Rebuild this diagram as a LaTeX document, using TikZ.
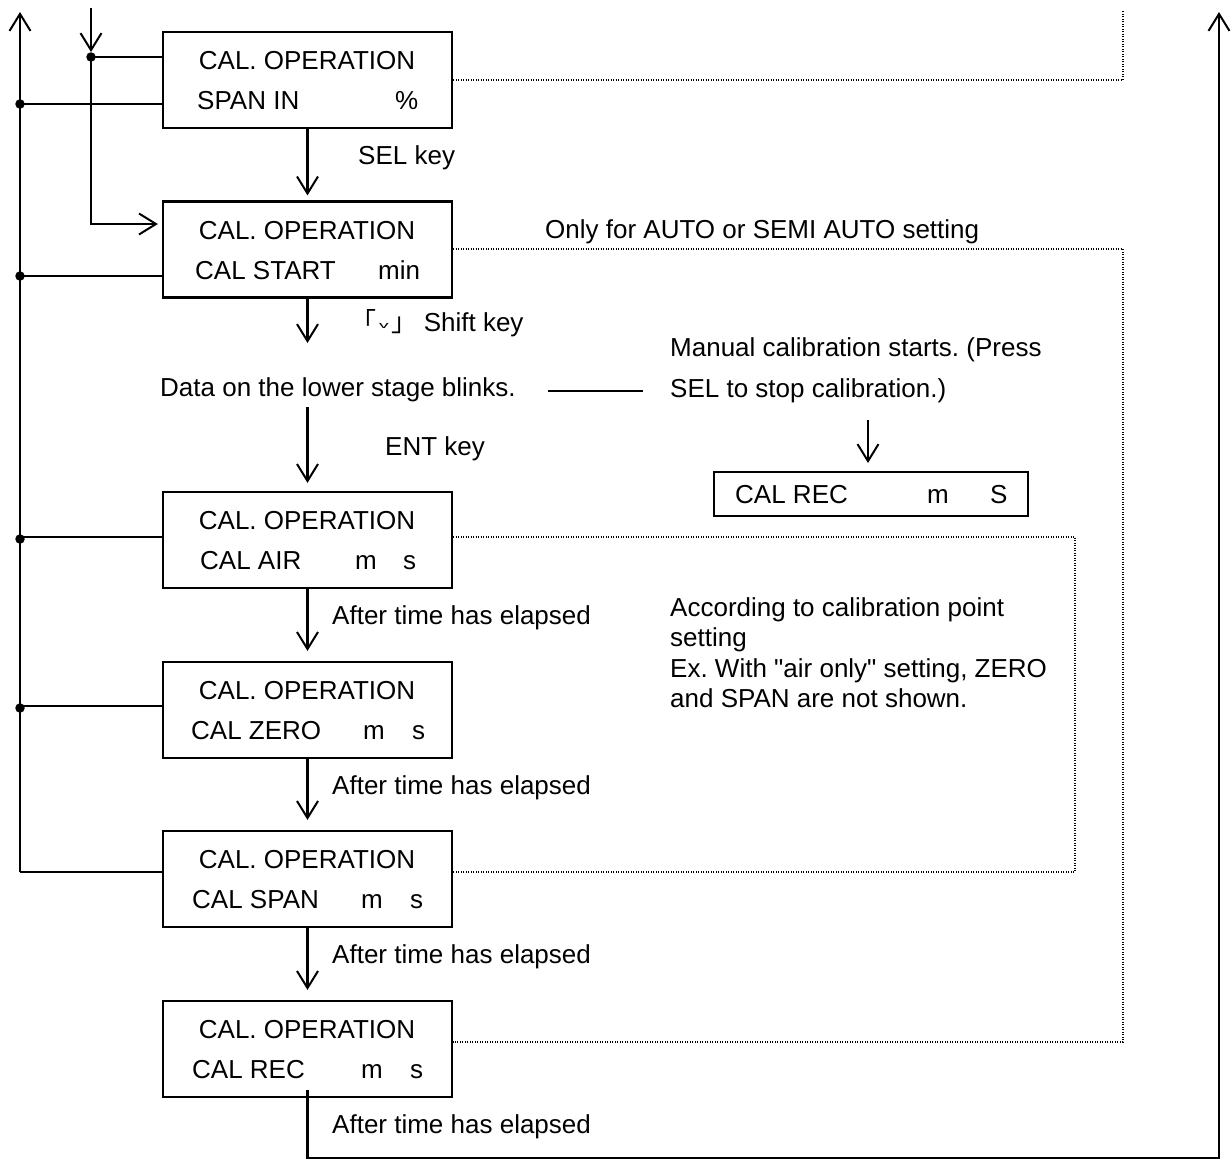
\documentclass[tikz,border=0pt]{standalone}
\usepackage{fontspec}
\setmainfont{Liberation Sans}[Ligatures=TeXOff]
\newfontfamily\cjk{Noto Sans CJK JP}
\usepackage{graphicx}
\usetikzlibrary{arrows.meta}
\frenchspacing
\begin{document}
\begin{tikzpicture}[x=1pt,y=-1pt,
  font=\fontsize{26}{30}\selectfont,
  ln/.style={line width=2.2pt},
  arr/.style={ln,-{Straight Barb[length=17pt,width=21pt,line width=2pt]}},
  box/.style={draw,line width=2.2pt,minimum width=289pt,minimum height=96pt,inner sep=0pt},
  sbox/.style={draw,line width=2.2pt,minimum width=314pt,minimum height=44pt,inner sep=0pt},
  lbl/.style={inner sep=0pt,anchor=base west},
  ttl/.style={inner sep=0pt,anchor=base},
  dotl/.style={line width=1.3pt,dash pattern=on 1.3pt off 1.2pt},
  jdot/.style={circle,fill,inner sep=0pt,minimum size=9.5pt}]
\useasboundingbox (0,0) rectangle (1231,1160);

% boxes
\node[box] (b1) at (307.5,80) {};
\node[box] (b2) at (307.5,249.5) {};
\node[box] (b3) at (307.5,540) {};
\node[box] (b4) at (307.5,710) {};
\node[box] (b5) at (307.5,879) {};
\node[box] (b6) at (307.5,1049) {};
\node[sbox] (cr) at (871,494) {};

% box texts
\node[ttl] (t1) at (307,69) {CAL. OPERATION};
\node[lbl] (t1a) at (197,109) {SPAN IN};
\node[lbl] (t1b) at (395,109) {\%};
\node[ttl] (t2) at (307,239) {CAL. OPERATION};
\node[lbl] (t2a) at (195,279) {CAL START};
\node[lbl] (t2b) at (378,279) {min};
\node[ttl] (t3) at (307,529) {CAL. OPERATION};
\node[lbl] (t3a) at (200,569) {CAL AIR};
\node[lbl] (t3b) at (355,569) {m};
\node[lbl] (t3c) at (403,569) {s};
\node[ttl] (t4) at (307,699) {CAL. OPERATION};
\node[lbl] (t4a) at (191,739) {CAL ZERO};
\node[lbl] (t4b) at (363,739) {m};
\node[lbl] (t4c) at (412,739) {s};
\node[ttl] (t5) at (307,868) {CAL. OPERATION};
\node[lbl] (t5a) at (192,908) {CAL SPAN};
\node[lbl] (t5b) at (361,908) {m};
\node[lbl] (t5c) at (410,908) {s};
\node[ttl] (t6) at (307,1038) {CAL. OPERATION};
\node[lbl] (t6a) at (192,1078) {CAL REC};
\node[lbl] (t6b) at (361,1078) {m};
\node[lbl] (t6c) at (410,1078) {s};
\node[lbl] (cra) at (735,503) {CAL REC};
\node[lbl] (crb) at (927,503) {m};
\node[lbl] (crc) at (990,503) {S};

% labels
\node[lbl] (sel) at (358,164) {SEL key};
\node[lbl] (shift) at (350,331) {{\cjk 「}\hspace{3pt}\raisebox{3pt}{\scalebox{1.2}[0.6]{\fontsize{16}{16}\selectfont v}}\hspace{3pt}{\cjk 」}\hspace{6pt}Shift key};
\node[lbl] (data) at (160,396) {Data on the lower stage blinks.};
\node[lbl] (man1) at (670,356) {Manual calibration starts. (Press};
\node[lbl] (man2) at (670,397) {SEL to stop calibration.)};
\node[lbl] (ent) at (385,455) {ENT key};
\node[lbl] (only) at (545,238) {Only for AUTO or SEMI AUTO setting};
\node[lbl] (acc1) at (670,616) {According to calibration point};
\node[lbl] (acc2) at (670,646) {setting};
\node[lbl] (acc3) at (670,677) {Ex. With "air only" setting, ZERO};
\node[lbl] (acc4) at (670,707) {and SPAN are not shown.};
\node[lbl] (el1) at (332,624) {After time has elapsed};
\node[lbl] (el2) at (332,794) {After time has elapsed};
\node[lbl] (el3) at (332,963) {After time has elapsed};
\node[lbl] (el4) at (332,1133) {After time has elapsed};

% coordinates
\coordinate (c2) at (307.5,343);
\coordinate (c3) at (307.5,407);
\coordinate (lt) at (20,12);
\coordinate (l5) at (20,872);
\coordinate (dtop) at (91,8);
\coordinate (j0) at (91,57);
\coordinate (j1) at (91,224);
\coordinate (rt) at (1219,12);
\coordinate (rb) at (1219,1158);
\coordinate (bb) at (307.5,1158);
\coordinate (m1) at (548,391);
\coordinate (m2) at (643,391);
\coordinate (ca) at (868,420);
\coordinate (cb) at (868,463);

% main flow arrows
\draw[arr] (b1.south) -- ([yshift=5pt]b2.north);
\draw[arr] (b2.south) -- (c2);
\draw[arr] (c3) -- ([yshift=8pt]b3.north);
\draw[arr] (b3.south) -- ([yshift=10pt]b4.north);
\draw[arr] (b4.south) -- ([yshift=10pt]b5.north);
\draw[arr] (b5.south) -- ([yshift=10pt]b6.north);
\draw[arr] (ca) -- (cb);
\draw[ln] (m1) -- (m2);

% return line at bottom/right
\draw[arr] ([yshift=8pt]b6.south) -- (bb) -- (rb) -- (rt);

% left return line
\draw[arr] (l5) -- (lt);
\draw[ln] (b5.west |- l5) -- (l5);
\draw[ln] (b1.west |- 0,104) -- (20,104);
\draw[ln] (b2.west |- 0,276) -- (20,276);
\draw[ln] (b3.west |- 0,537) -- (20,537);
\draw[ln] (b4.west |- 0,706) -- (20,706);
\node[jdot] (d1) at (20,104) {};
\node[jdot] (d2) at (20,276) {};
\node[jdot] (d3) at (20,539) {};
\node[jdot] (d4) at (20,708) {};

% entry line
\draw[arr] (dtop) -- ([yshift=5pt]j0);
\draw[ln] (j0) -- (b1.west |- j0);
\draw[arr] (j0) -- (j1) -- ([xshift=-4pt]b2.west |- j1);
\node[jdot] (d0) at (j0) {};

% dotted lines
\draw[dotl] (b1.east |- 0,80) -- (1123,80) -- (1123,10);
\draw[dotl] (b2.east |- 0,249) -- (1123,249) -- (1123,1042) -- (b6.east |- 0,1042);
\draw[dotl] (b3.east |- 0,537) -- (1075,537) -- (1075,872) -- (b5.east |- 0,872);
\end{tikzpicture}
\end{document}
